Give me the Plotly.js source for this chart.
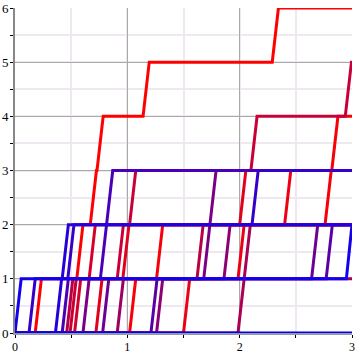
<!DOCTYPE html>
<html>
<head>
<meta charset="utf-8">
<script src="https://cdn.plot.ly/plotly-3.0.1.min.js"></script>
<style>html,body{margin:0;padding:0;background:#fff}#chart{width:355px;height:355px}</style>
</head>
<body>
<div id="chart"></div>
<script>
// Jump times of each sample path (counting process), red -> blue
const path00 = [0.18, 0.55, 0.67, 0.73, 1.14, 2.29];
const path01 = [1.02, 1.26, 2.76, 2.82];
const path02 = [1.50, 1.985, 2.40];
const path03 = [0.72, 0.96, 2.00];
const path04 = [0.53, 0.66];
const path05 = [0.49, 0.91, 1.02, 2.10, 2.94];
const path06 = [0.46, 1.62];
const path07 = [1.985, 2.04];
const path08 = [0.91];
const path09 = [1.26, 1.86];
const path10 = [0.605, 1.68, 1.735];
const path11 = [0.78, 2.64];
const path12 = [1.21, 2.77];
const path13 = [0.42, 0.76, 0.81];
const path14 = [0.125, 0.47, 2.11];
const path15 = [0.36, 0.42];
const path16 = [0.00, 2.95];
const path17 = [];
const paths = [path00, path01, path02, path03, path04, path05, path06, path07, path08,
               path09, path10, path11, path12, path13, path14, path15, path16, path17];
const tEnd = 3;
const xTicks = [0, 1, 2, 3];
const yTicks = [0, 1, 2, 3, 4, 5, 6];

const rise = 0.055;
function buildPath(jumps) {
  const xs = [0], ys = [0];
  let level = 0, cur = 0;
  jumps.forEach(t => {
    const start = Math.max(t, cur);
    xs.push(start); ys.push(level);
    level += 1;
    cur = Math.min(start + rise, tEnd);
    xs.push(cur); ys.push(level);
  });
  xs.push(tEnd); ys.push(level);
  return {xs, ys};
}
const n = paths.length;
const traces = paths.map((jumps, i) => {
  const p = buildPath(jumps);
  const f = Math.pow(i / (n - 1), 1.25);
  const col = 'rgb(' + Math.round(255 * (1 - f)) + ',0,' + Math.round(255 * f) + ')';
  return {x: p.xs, y: p.ys, type: 'scatter', mode: 'lines',
          line: {color: col, width: 3}, hoverinfo: 'skip', showlegend: false, cliponaxis: true};
});

const font = {family: 'Liberation Serif, Times New Roman, serif', size: 13, color: '#000'};
const xfont = {family: 'Liberation Serif, Times New Roman, serif', size: 12, color: '#000'};
const layout = {
  width: 355, height: 355,
  margin: {l: 15, r: 3, t: 8, b: 22},
  paper_bgcolor: '#fff', plot_bgcolor: '#fff',
  showlegend: false,
  font: font,
  xaxis: {range: [0, 3], tickvals: xTicks, ticktext: xTicks.map(String),
          showgrid: true, gridcolor: '#a9a9a9', gridwidth: 1,
          minor: {dtick: 0.5, tick0: 0, showgrid: true, gridcolor: '#f0e8f0', gridwidth: 2, ticks: 'outside', ticklen: 3, tickcolor: '#000'},
          zeroline: false, showline: true, linecolor: '#999', linewidth: 2,
          ticks: 'outside', ticklen: 2, tickcolor: '#000', tickfont: xfont, ticklabelstandoff: 0, fixedrange: true},
  yaxis: {range: [0, 6], tickvals: yTicks, ticktext: yTicks.map(String),
          showgrid: true, gridcolor: '#a9a9a9', gridwidth: 1,
          minor: {dtick: 0.5, tick0: 0, showgrid: true, gridcolor: '#f0e8f0', gridwidth: 2, ticks: 'outside', ticklen: 3, tickcolor: '#000'},
          zeroline: false, showline: true, linecolor: '#888', linewidth: 2,
          ticks: 'outside', ticklen: 2, tickcolor: '#000', tickfont: font, ticklabelstandoff: 0, fixedrange: true}
};
Plotly.newPlot('chart', traces, layout, {staticPlot: true, displayModeBar: false});
</script>
</body>
</html>
